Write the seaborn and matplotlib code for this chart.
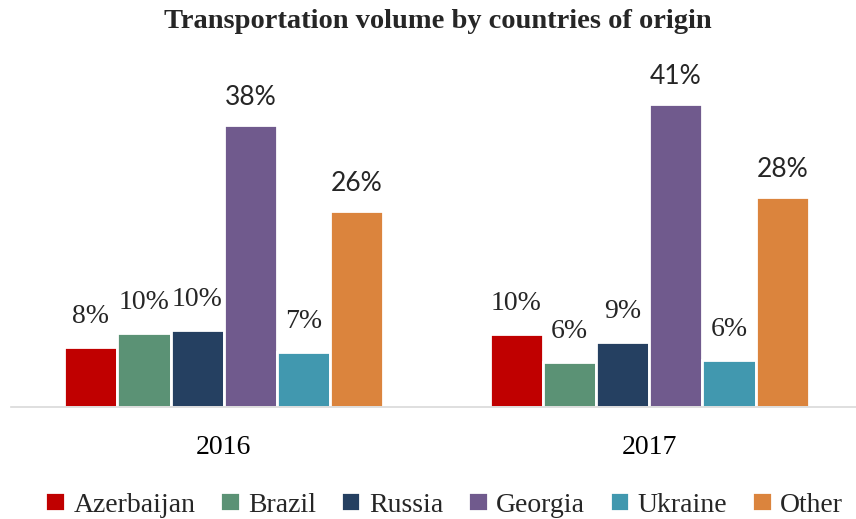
import pandas as pd
import matplotlib
matplotlib.use('Agg')
import matplotlib.pyplot as plt
import seaborn as sns

# data (share of transportation volume, %)
years = ['2016', '2017']
countries = ['Azerbaijan', 'Brazil', 'Russia', 'Georgia', 'Ukraine', 'Other']
share_2016 = [8.1, 10.0, 10.4, 38.0, 7.4, 26.4]
share_2017 = [9.9, 6.1, 8.8, 40.9, 6.4, 28.3]
colors = ['#C00000', '#5B9275', '#254061', '#705A8D', '#4198AF', '#DB843D']

df = pd.DataFrame({
    'Year': [y for y in years for _ in countries],
    'Country': countries * 2,
    'Share': share_2016 + share_2017,
})

sns.set_style('white')
plt.rcParams['font.family'] = ['Liberation Serif', 'DejaVu Serif']

fig = plt.figure(figsize=(8.56, 5.19), dpi=100)
ax = fig.add_axes([0.0129, 0.2158, 0.9871, 0.6426])

sns.barplot(data=df, x='Year', y='Share', hue='Country', hue_order=countries,
            palette=colors, saturation=1, width=0.75, edgecolor='white',
            linewidth=2, ax=ax)

ax.set_xlim(-0.5, 1.486)
ax.set_ylim(0, 45)
ax.set_xlabel('')
ax.set_ylabel('')
ax.set_yticks([])
ax.tick_params(axis='x', length=0, pad=20, labelsize=20, colors='#000000')
for s in ['top', 'left', 'right']:
    ax.spines[s].set_visible(False)
ax.spines['bottom'].set_color('#D9D9D9')
ax.spines['bottom'].set_linewidth(1.2)

# value labels: the big bars use a sans font in the original
for name, cont in zip(countries, ax.containers):
    labs = [f'{round(b.get_height())}%' for b in cont]
    if name in ('Georgia', 'Other'):
        ax.bar_label(cont, labels=labs, padding=11, fontsize=19,
                     family=['Lato', 'DejaVu Sans'], color='#262626')
    else:
        ax.bar_label(cont, labels=labs, padding=13, fontsize=20,
                     color='#262626')

ax.legend_.remove()
handles, labels = ax.get_legend_handles_labels()
fig.legend(handles, labels, loc='center', bbox_to_anchor=(0.519, 0.027),
           ncol=6, frameon=False, fontsize=20, handlelength=0.7,
           handleheight=0.68, handletextpad=0.3, columnspacing=0.9)

fig.text(0.512, 0.958, 'Transportation volume by countries of origin',
         ha='center', va='center', fontsize=20.5, fontweight='bold')

plt.savefig('out.png', dpi=100)
